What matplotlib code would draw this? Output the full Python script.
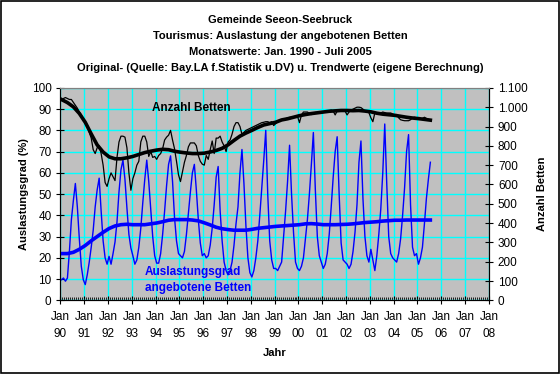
import numpy as np
import matplotlib
matplotlib.use("Agg")
import matplotlib.pyplot as plt
from matplotlib.ticker import FuncFormatter, MultipleLocator
from matplotlib.patches import Rectangle

plt.rcParams['font.family'] = ['Liberation Sans', 'DejaVu Sans']

# monthly values Jan 1990 - Jul 2005
auslastung = [
    9.7, 10.5, 9.0, 10.5, 23, 38, 47, 55, 44, 29, 16, 9.7,      # 1990
    7.4, 12, 18, 25, 33, 44, 52, 57.5, 42, 28, 20, 17,          # 1991
    20.7, 17, 22, 27.5, 37, 51, 61.5, 66, 57, 43.5, 31, 24.6,   # 1992
    21, 17, 19, 25, 34, 46, 57, 66, 56, 43, 30, 21,             # 1993
    17.5, 17.5, 22, 31, 42, 54, 64, 68, 56, 39, 28, 22,         # 1994
    21, 20, 23, 31, 41, 51, 60, 64, 52, 38, 27, 21,             # 1995
    22, 20, 21, 26, 34, 45, 58, 63, 42, 28, 18, 14,             # 1996
    12, 14, 18, 26, 36, 44, 60, 71, 55, 35, 20, 13,             # 1997
    11, 14, 20, 28, 40, 53, 66, 80, 50, 28, 19, 15,             # 1998
    15, 14, 16, 18, 30, 42, 56, 73, 50, 32, 18, 15,             # 1999
    14, 16, 20, 29, 38, 50, 64, 79, 52, 30, 21, 18,             # 2000
    15, 17, 22, 31, 44, 58, 70, 77, 50, 27, 19, 18,             # 2001
    17, 15, 17, 23, 32, 45, 65, 75, 48, 30, 21, 18,             # 2002
    24, 19, 14, 21, 31, 43, 60, 83, 55, 30, 22, 20,             # 2003
    19, 18, 22, 29, 40, 53, 70, 78, 45, 25, 21, 22,             # 2004
    17, 20, 25, 36, 48, 57, 65,                                 # 2005
]

betten = [
    1035, 1045, 1050, 1045, 1040, 1040, 1025, 1010, 995, 975, 960, 930,
    920, 910, 870, 840, 780, 760, 790, 800, 760, 700, 610, 590,
    630, 660, 640, 620, 740, 820, 850, 850, 845, 790, 660, 570,
    630, 660, 700, 720, 820, 850, 850, 820, 745, 770, 740, 745,
    730, 750, 760, 785, 830, 845, 855, 880, 830, 785, 720, 650,
    615, 665, 715, 750, 795, 815, 815, 815, 800, 750, 720, 705,
    700, 750, 730, 780, 825, 760, 840, 840, 850, 820, 800, 770,
    820, 830, 860, 900, 920, 920, 900, 860, 870, 880, 885, 890,
    895, 900, 905, 910, 915, 920, 922, 925, 925, 920, 925, 905,
    915, 925, 930, 935, 938, 940, 945, 947, 948, 950, 952, 953,
    920, 960, 975, 975, 975, 968, 962, 970, 973, 970, 970, 970,
    975, 978, 980, 982, 985, 980, 960, 980, 985, 985, 982, 980,
    960, 975, 985, 990, 995, 1000, 1000, 998, 990, 980, 975, 972,
    945, 925, 970, 970, 970, 970, 975, 972, 970, 970, 970, 965,
    960, 962, 945, 935, 932, 930, 930, 930, 935, 945, 948, 945,
    940, 938, 942, 948, 942, 936, 933,
]

# trend values, quarterly from Jan 1990 to Jul 2005
trend_auslastung = [
    22.0, 22.0, 22.6, 24.0, 25.8, 28.0, 30.0, 32.0, 33.8, 35.0, 35.6, 35.8, 35.6,
    35.6, 35.6, 36.0, 36.4, 37.0, 37.7, 38.0, 38.0, 38.0, 37.8, 37.4, 36.5,
    35.5, 34.4, 33.7, 33.3, 33.0, 33.0, 33.0, 33.4, 33.9, 34.2, 34.5, 34.8,
    35.0, 35.2, 35.4, 35.6, 36.0, 36.1, 35.9, 35.6, 35.6, 35.6, 35.7, 35.8,
    36.0, 36.3, 36.6, 36.8, 37.0, 37.3, 37.5, 37.7, 37.7, 37.8, 37.8, 37.8,
    37.8, 37.8,
]
trend_betten = [
    1040, 1024, 1002, 968, 922, 862, 805, 768, 743, 733, 733, 738, 745,
    755, 765, 772, 778, 782, 780, 772, 767, 763, 760, 760, 762,
    768, 776, 787, 805, 828, 850, 866, 880, 895, 908, 915, 922,
    934, 940, 948, 956, 962, 967, 971, 975, 979, 981, 983, 983,
    982, 983, 980, 976, 969, 964, 961, 958, 953, 948, 944, 941,
    937, 933,
]

years = list(range(1990, 2009))
year_labels = ["Jan\n%02d" % (y % 100) for y in years]

t_month = 1990 + (np.arange(len(auslastung)) + 0.5) / 12
t_trend = 1990 + np.arange(len(trend_auslastung)) * 0.25 + 0.04

fig = plt.figure(figsize=(5.6, 3.74), dpi=100)
ax = fig.add_axes([0.108, 0.197, 0.765, 0.568])
ax.set_facecolor('#c0c0c0')
ax2 = ax.twinx()

ax.plot(t_month, auslastung, color='#0000ff', lw=1.0, zorder=3)
ax.plot(t_trend, trend_auslastung, color='#0000ff', lw=2.6, zorder=4)
ax2.plot(t_month, betten, color='black', lw=0.9)
ax2.plot(t_trend, trend_betten, color='black', lw=2.6)

ax.set_xlim(1990, 2008)
ax.set_ylim(0, 100)
ax2.set_ylim(0, 1100)

ax.set_xticks(years)
ax.set_xticklabels(year_labels, linespacing=1.5)
ax.xaxis.set_minor_locator(MultipleLocator(1 / 12))
ax.yaxis.set_major_locator(MultipleLocator(10))
ax2.yaxis.set_major_locator(MultipleLocator(100))
ax2.yaxis.set_major_formatter(FuncFormatter(lambda v, p: f"{int(v):,}".replace(",", ".")))

ax.grid(True, which='major', color='#00ffff', lw=1.0, zorder=1)
ax.set_axisbelow(True)

ax.tick_params(axis='both', which='major', labelsize=8.5, direction='inout', length=6, width=0.8)
ax.tick_params(axis='x', which='minor', direction='in', length=2, width=0.6)
ax.tick_params(axis='x', which='major', pad=5)
ax2.tick_params(axis='y', which='major', labelsize=8.5, direction='inout', length=6, width=0.8)

for a in (ax, ax2):
    a.spines['top'].set_color('#808080')
    a.spines['left'].set_color('black')
    a.spines['right'].set_color('black')
    a.spines['bottom'].set_color('black')

ax.set_ylabel('Auslastungsgrad (%)', fontsize=8, fontweight='bold', labelpad=2)
ax2.set_ylabel('Anzahl Betten', fontsize=8, fontweight='bold', labelpad=7)
ax.set_xlabel('Jahr', fontsize=8, fontweight='bold', labelpad=6)

ax.text(1993.85, 90.7, 'Anzahl Betten', fontsize=8.5, fontweight='bold', va='center', zorder=6)
ax.text(1993.55, 13.3, 'Auslastungsgrad', fontsize=8.5, fontweight='bold', color='#0000ff', va='center', zorder=6)
ax.text(1993.55, 5.8, 'angebotene Betten', fontsize=8.5, fontweight='bold', color='#0000ff', va='center', zorder=6)

titles = ['Gemeinde Seeon-Seebruck',
          'Tourismus: Auslastung der angebotenen Betten',
          'Monatswerte: Jan. 1990 - Juli 2005',
          'Original- (Quelle: Bay.LA f.Statistik u.DV) u. Trendwerte (eigene Berechnung)']
for k, s in enumerate(titles):
    fig.text(0.5, 1 - (20 + 16 * k) / 374, s, ha='center', va='center', fontsize=8, fontweight='bold')

fig.patches.append(Rectangle((0.001, 0.002), 0.997, 0.995, transform=fig.transFigure,
                             fill=False, edgecolor='black', lw=1.2))

fig.savefig('out.png', dpi=100)
